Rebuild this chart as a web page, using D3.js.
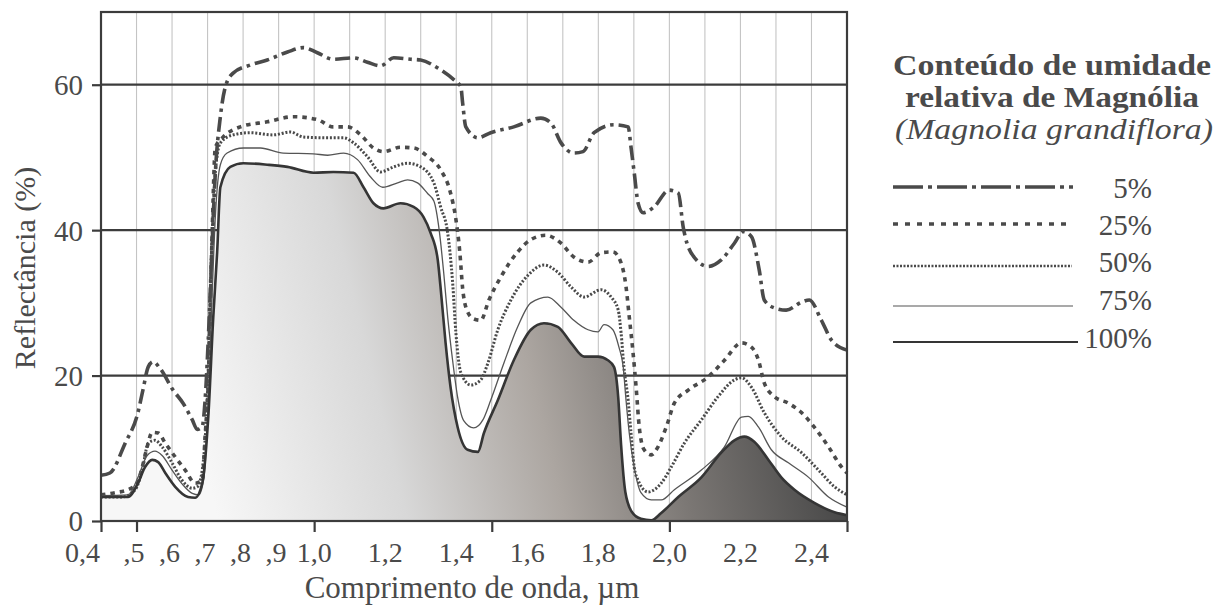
<!DOCTYPE html>
<html>
<head>
<meta charset="utf-8">
<script src="https://cdn.jsdelivr.net/npm/d3@7"></script>
<style>
  html, body { margin: 0; padding: 0; background: #ffffff; }
  svg { display: block; }
  text { font-family: "Liberation Serif", "DejaVu Serif", serif; fill: #4a4a4a; }
</style>
</head>
<body>
<svg id="chart" width="1229" height="608"></svg>
<script>
// ---------------- DATA ----------------
// wavelength (µm), reflectance (%)
const series5 = [[0.40,6.3],[0.425,6.6],[0.468,10.7],[0.504,14.9],[0.518,18],[0.533,21.2],[0.547,21.9],[0.566,21],[0.603,18],[0.631,16.2],[0.657,13.9],[0.671,12.6],[0.685,13.0],[0.693,16.6],[0.702,25],[0.712,37],[0.722,48],[0.736,55.6],[0.750,59.7],[0.772,61.6],[0.820,62.7],[0.868,63.4],[0.925,64.5],[0.970,65.1],[1.009,64.4],[1.054,63.5],[1.111,63.7],[1.150,63.1],[1.187,62.6],[1.224,63.7],[1.272,63.5],[1.300,63.4],[1.348,62.3],[1.393,60.7],[1.413,59.7],[1.418,57.5],[1.427,54.2],[1.461,52.7],[1.497,53.4],[1.562,54.2],[1.638,55.4],[1.667,54.7],[1.695,52],[1.731,50.6],[1.757,50.8],[1.788,53.4],[1.844,54.5],[1.884,54.2],[1.892,51.4],[1.901,47.9],[1.912,43.7],[1.926,42.4],[1.957,43.2],[1.999,45.5],[2.025,45.1],[2.039,40.4],[2.061,36.9],[2.109,35],[2.146,35.9],[2.183,38.2],[2.208,39.8],[2.231,39.1],[2.253,34.5],[2.267,30.4],[2.296,29.3],[2.329,29],[2.372,30.1],[2.394,30.4],[2.428,27.6],[2.456,24.9],[2.5,23.5]];

const series25 = [[0.40,3.6],[0.439,3.9],[0.476,4.3],[0.502,5.2],[0.516,7.4],[0.530,10.2],[0.544,12.2],[0.561,12.1],[0.581,10.7],[0.609,8.8],[0.637,7],[0.665,5.2],[0.685,5.6],[0.693,11.6],[0.702,19],[0.712,38],[0.722,51.4],[0.744,52.8],[0.792,54.2],[0.868,54.9],[0.942,55.6],[1.009,55.2],[1.054,54.2],[1.094,54.2],[1.131,53.1],[1.167,51.3],[1.195,50.8],[1.243,51.4],[1.280,51.3],[1.320,50.1],[1.356,48.3],[1.384,45.1],[1.399,41.5],[1.410,37],[1.418,32],[1.430,29],[1.449,27.8],[1.469,27.6],[1.492,30.4],[1.526,33.6],[1.573,37],[1.610,38.7],[1.652,39.3],[1.695,38.2],[1.731,36.3],[1.771,35.6],[1.808,36.9],[1.841,37],[1.864,35.5],[1.878,32.2],[1.887,28.1],[1.898,23],[1.907,18],[1.915,13],[1.929,9.8],[1.949,9.1],[1.968,10.2],[1.991,12.9],[2.014,16.2],[2.053,18],[2.109,19.8],[2.155,22.1],[2.203,24.5],[2.231,23.9],[2.251,22.1],[2.267,19],[2.296,17.1],[2.335,16.2],[2.372,14.9],[2.408,12.9],[2.448,10.2],[2.485,7.4],[2.5,6.6]];

const series50 = [[0.40,3.3],[0.459,3.3],[0.496,4.3],[0.516,7],[0.533,10.7],[0.552,11.1],[0.572,10.2],[0.60,8],[0.628,5.6],[0.657,4.5],[0.671,4.7],[0.685,7],[0.70,18],[0.712,38],[0.722,48],[0.736,52],[0.772,53.1],[0.820,53.4],[0.885,53.1],[0.933,53.5],[0.970,52.8],[1.038,52.7],[1.083,52.7],[1.111,52],[1.150,50.1],[1.187,48],[1.224,48.7],[1.263,49.2],[1.300,48.7],[1.337,46.5],[1.356,43.2],[1.376,39.6],[1.390,32.7],[1.399,25.9],[1.413,20.4],[1.441,18.7],[1.469,19.4],[1.489,21.7],[1.517,26.3],[1.554,30.4],[1.602,33.8],[1.647,35.2],[1.686,34.2],[1.723,32.2],[1.760,30.8],[1.808,31.8],[1.836,30.8],[1.856,29],[1.864,25.9],[1.872,21.2],[1.884,16.6],[1.892,12.1],[1.901,7.4],[1.912,5.6],[1.940,4],[1.977,5.2],[2.005,7.4],[2.042,10.7],[2.090,13.9],[2.137,17.1],[2.183,19.4],[2.203,19.7],[2.231,18.4],[2.267,14.9],[2.315,11.6],[2.372,9.4],[2.420,7],[2.465,4.7],[2.5,3.6]];

const series75 = [[0.40,3.5],[0.476,3.6],[0.504,6],[0.53,9],[0.552,9.6],[0.572,9],[0.60,7],[0.63,5],[0.657,3.8],[0.675,3.6],[0.69,6],[0.70,14],[0.712,30],[0.722,42],[0.736,49],[0.755,50.6],[0.801,51.3],[0.849,51.3],[0.913,50.6],[0.998,50.5],[1.038,50.3],[1.083,50.6],[1.122,49.7],[1.159,47.3],[1.193,45.9],[1.235,46.5],[1.263,46.9],[1.291,46.5],[1.320,45],[1.337,44],[1.352,40],[1.365,34],[1.376,28],[1.390,22],[1.404,17],[1.421,13.8],[1.449,12.8],[1.475,13.9],[1.497,16.6],[1.534,21.7],[1.573,26.7],[1.610,30],[1.658,30.8],[1.695,29.4],[1.731,27.6],[1.771,26.3],[1.799,26],[1.816,27],[1.841,26.3],[1.858,23.9],[1.870,21.2],[1.878,16.6],[1.887,12.1],[1.901,7.4],[1.920,3.9],[1.949,2.9],[1.977,2.9],[2.014,4.3],[2.090,7],[2.155,10.2],[2.203,14.3],[2.222,14.4],[2.251,12.9],[2.287,9.8],[2.335,8],[2.392,6],[2.448,3.3],[2.5,1.9]];

const series100 = [[0.40,3.3],[0.476,3.3],[0.504,5.2],[0.524,7.4],[0.544,8.4],[0.561,8.1],[0.581,6.6],[0.609,4.7],[0.645,3.3],[0.665,3.2],[0.685,5.2],[0.702,14.3],[0.716,28],[0.727,37],[0.736,45.9],[0.764,48.7],[0.801,49.2],[0.868,49],[0.925,48.7],[0.998,47.9],[1.054,48],[1.111,47.9],[1.139,45.9],[1.167,43.7],[1.195,43],[1.243,43.7],[1.280,43.2],[1.308,41.8],[1.328,39.6],[1.348,35.9],[1.358,31],[1.370,24.5],[1.384,18.4],[1.404,12.9],[1.432,9.8],[1.461,9.5],[1.478,12.1],[1.517,16.6],[1.562,22.1],[1.610,26.3],[1.647,27.2],[1.686,26.7],[1.723,24.5],[1.760,22.6],[1.799,22.6],[1.827,22.1],[1.844,21.2],[1.856,17],[1.864,10.5],[1.876,4],[1.895,1.2],[1.920,0.3],[1.949,0.1],[1.977,1.1],[2.025,3.3],[2.090,6],[2.146,9.4],[2.183,11.1],[2.211,11.6],[2.239,10.9],[2.279,8.4],[2.315,6],[2.352,4.3],[2.408,2.5],[2.465,1.2],[2.5,0.8]];

const seriesNames = ["5%", "25%", "50%", "75%", "100%"];
const xTickMarks = [0.4, 0.5, 1.0, 1.5, 2.0, 2.5];
const xTickValues = [0.4, 0.5, 0.6, 0.7, 0.8, 0.9, 1.0, 1.2, 1.4, 1.6, 1.8, 2.0, 2.2, 2.4];
const xTickLabels = ["0,4", ",5", ",6", ",7", ",8", ",9", "1,0", "1,2", "1,4", "1,6", "1,8", "2,0", "2,2", "2,4"];
const yTickValues = [0, 20, 40, 60];
const gridX = [0.5,0.6,0.7,0.8,0.9,1.0,1.1,1.2,1.3,1.4,1.5,1.6,1.7,1.8,1.9,2.0,2.1,2.2,2.3,2.4];

const legendTitle1 = "Conteúdo de umidade";
const legendTitle2 = "relativa de Magnólia";
const legendTitle3 = "(Magnolia grandiflora)";
const xTitle = "Comprimento de onda, µm";
const yTitle = "Reflectância (%)";

// ---------------- LAYOUT ----------------
const svg = d3.select("#chart");
const L = 101, R = 847, T = 12, B = 521;
const x = d3.scaleLinear().domain([0.4, 2.5]).range([L, R]);
const y = d3.scaleLinear().domain([0, 70]).range([B, T]);
const ink = "#3c3c3c";

// gradient for the 100% area
const defs = svg.append("defs");
const grad = defs.append("linearGradient")
  .attr("id", "fillGrad").attr("gradientUnits", "userSpaceOnUse")
  .attr("x1", x(0.72)).attr("y1", y(2)).attr("x2", x(2.4)).attr("y2", y(22));
[[0, "#f7f7f7"], [0.3, "#d8d8d8"], [0.55, "#aca6a1"], [0.75, "#7b7774"], [1, "#474747"]]
  .forEach(([o, c]) => grad.append("stop").attr("offset", o).attr("stop-color", c));

// vertical light gridlines
svg.append("g").selectAll("line").data(gridX).join("line")
  .attr("x1", d => x(d)).attr("x2", d => x(d))
  .attr("y1", T).attr("y2", B)
  .attr("stroke", "#c4c4c4").attr("stroke-width", 1.1);

// horizontal dark gridlines
svg.append("g").selectAll("line").data(yTickValues.filter(d => d > 0)).join("line")
  .attr("x1", L).attr("x2", R)
  .attr("y1", d => y(d)).attr("y2", d => y(d))
  .attr("stroke", ink).attr("stroke-width", 2.2);

// filled area for 100%
const curve = d3.curveMonotoneX;
svg.append("path").datum(series100)
  .attr("d", d3.area().x(d => x(d[0])).y0(y(0)).y1(d => y(d[1])).curve(curve))
  .attr("fill", "url(#fillGrad)");

// series lines
const styles = {
  "5%":   { w: 3.6, dash: "15,5,3.5,5", color: "#4a4a4a" },
  "25%":  { w: 3.6, dash: "4.5,5", color: "#4a4a4a" },
  "50%":  { w: 3.0, dash: "2,1.8", color: "#4a4a4a" },
  "75%":  { w: 1.3, dash: null, color: "#555555" },
  "100%": { w: 2.6, dash: null, color: "#353535" }
};
const allSeries = [series5, series25, series50, series75, series100];
const line = d3.line().x(d => x(d[0])).y(d => y(d[1])).curve(curve);
allSeries.forEach((s, i) => {
  const st = styles[seriesNames[i]];
  svg.append("path").datum(s)
    .attr("d", line)
    .attr("fill", "none")
    .attr("stroke", st.color)
    .attr("stroke-width", st.w)
    .attr("stroke-dasharray", st.dash)
    .attr("stroke-linejoin", "round");
});

// frame
svg.append("rect").attr("x", L).attr("y", T).attr("width", R - L).attr("height", B - T)
  .attr("fill", "none").attr("stroke", ink).attr("stroke-width", 2.2);

// y axis
const yAxis = svg.append("g").attr("transform", `translate(${L},0)`)
  .call(d3.axisLeft(y).tickValues(yTickValues).tickSize(9).tickPadding(9).tickFormat(d3.format("d")));
yAxis.select(".domain").remove();
yAxis.selectAll(".tick line").attr("stroke", ink).attr("stroke-width", 2.2);
yAxis.selectAll(".tick text").attr("font-size", 29).attr("fill", "#4a4a4a")
  .attr("font-family", "Liberation Serif").attr("dy", "0.34em");

// x axis tick marks
const xAxis = svg.append("g").attr("transform", `translate(0,${B})`)
  .call(d3.axisBottom(x).tickValues(xTickMarks).tickSize(11).tickFormat(""));
xAxis.select(".domain").remove();
xAxis.selectAll(".tick line").attr("stroke", ink).attr("stroke-width", 2.2);

// x tick labels
svg.append("g").selectAll("text").data(xTickValues).join("text")
  .attr("x", (d, i) => {
    const lab = xTickLabels[i];
    if (i === 0) return x(d) - 1;
    if (lab.startsWith(",")) return x(d) + 8;
    return x(d);
  })
  .attr("text-anchor", (d, i) => (i === 0 || xTickLabels[i].startsWith(",")) ? "end" : "middle")
  .attr("y", 562)
  .attr("font-size", 28)
  .text((d, i) => xTickLabels[i]);

// axis titles
svg.append("text").attr("x", (L + R) / 2 - 2).attr("y", 598)
  .attr("text-anchor", "middle").attr("font-size", 31).text(xTitle);
svg.append("text").attr("transform", "translate(35,268) rotate(-90)")
  .attr("text-anchor", "middle").attr("font-size", 30).text(yTitle);

// legend
const lg = svg.append("g");
const cx = 1052;
lg.append("text").attr("x", cx).attr("y", 75).attr("text-anchor", "middle")
  .attr("font-size", 29).attr("font-weight", "bold").attr("fill", "#444")
  .attr("textLength", 318).attr("lengthAdjust", "spacingAndGlyphs").text(legendTitle1);
lg.append("text").attr("x", cx).attr("y", 107).attr("text-anchor", "middle")
  .attr("font-size", 29).attr("font-weight", "bold").attr("fill", "#444")
  .attr("textLength", 294).attr("lengthAdjust", "spacingAndGlyphs").text(legendTitle2);
lg.append("text").attr("x", cx + 2).attr("y", 139).attr("text-anchor", "middle")
  .attr("font-size", 29).attr("font-style", "italic")
  .attr("textLength", 318).attr("lengthAdjust", "spacingAndGlyphs").text(legendTitle3);

const legendRows = [
  { ly: 187, ty: 198, x2: 1073, dash: "30,5,4,5", w: 3.6 },
  { ly: 224, ty: 235, x2: 1070, dash: "5,7", w: 3.6 },
  { ly: 266, ty: 272, x2: 1072, dash: "2,1.5", w: 2.6 },
  { ly: 306, ty: 310, x2: 1073, dash: null, w: 1.2 },
  { ly: 342, ty: 348, x2: 1078, dash: null, w: 2.2 }
];
seriesNames.forEach((name, i) => {
  const r = legendRows[i];
  lg.append("line").attr("x1", 893).attr("x2", r.x2).attr("y1", r.ly).attr("y2", r.ly)
    .attr("stroke", styles[name].color).attr("stroke-width", r.w)
    .attr("stroke-dasharray", r.dash);
  lg.append("text").attr("x", 1152).attr("y", r.ty).attr("text-anchor", "end")
    .attr("font-size", 29).text(name);
});
</script>
</body>
</html>
